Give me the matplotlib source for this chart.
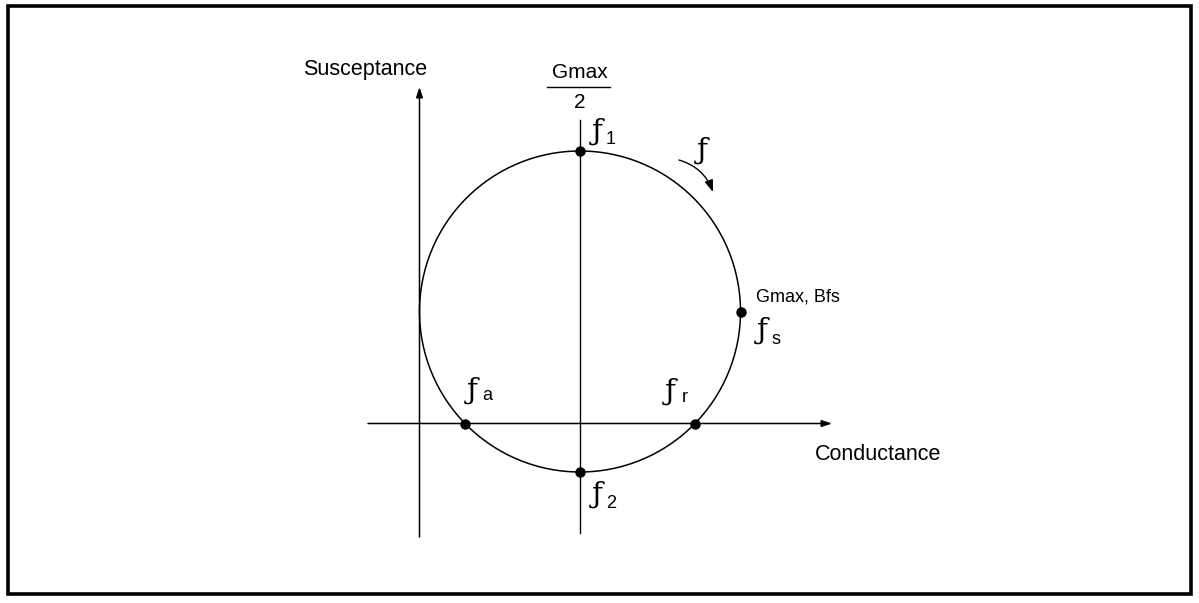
import numpy as np
import matplotlib
matplotlib.use("Agg")
from matplotlib import pyplot as plt
from matplotlib.patches import Circle, Rectangle, FancyArrowPatch

# admittance circle (diagram units: pixels from the axis origin)
Gmax = 321.0            # conductance at fs
Bfs = 112.0             # susceptance at fs
r = Gmax / 2
dG = np.sqrt(r ** 2 - Bfs ** 2)

point_names = ["1", "2", "s", "a", "r"]
point_G = [Gmax / 2, Gmax / 2, Gmax, Gmax / 2 - dG, Gmax / 2 + dG]
point_B = [Bfs + r, Bfs - r, Bfs, 0.0, 0.0]

# origin of the diagram in the picture
x0, y0 = 419.5, 423.5


def px(G, B):
    return x0 + G, y0 - B


fig = plt.figure(figsize=(11.99, 6.03), dpi=100)
ax = fig.add_axes([0, 0, 1, 1])
ax.set_xlim(0, 1199)
ax.set_ylim(603, 0)
ax.axis("off")

font = "Liberation Sans"
lw = 1.1

# frame
ax.add_patch(Rectangle((7.5, 5.5), 1183.5, 588.5, fill=False, lw=2.6, color="black"))

# axes with arrows
ax.annotate("", xy=px(0, 336.5), xytext=px(0, -113.5),
            arrowprops=dict(arrowstyle="-|>,head_length=0.6,head_width=0.2",
                            lw=lw, color="black", shrinkA=0, shrinkB=0))
ax.annotate("", xy=px(412.5, 0), xytext=px(-51.5, 0),
            arrowprops=dict(arrowstyle="-|>,head_length=0.6,head_width=0.2",
                            lw=lw, color="black", shrinkA=0, shrinkB=0))

# Gmax/2 line
ax.plot([x0 + Gmax / 2] * 2, [120, 533], color="black", lw=lw * 0.9)

# circle
ax.add_patch(Circle(px(Gmax / 2, Bfs), r, fill=False, lw=1.1, color="black"))

# points
X = [px(g, b)[0] for g, b in zip(point_G, point_B)]
Y = [px(g, b)[1] for g, b in zip(point_G, point_B)]
ax.plot(X, Y, "o", color="black", ms=6.5)

# labels
ax.text(365, 70, "Susceptance", fontsize=15.5, family=font, ha="center", va="center")
ax.text(878, 454, "Conductance", fontsize=15.5, family=font, ha="center", va="center")
ax.text(580, 73, "Gmax", fontsize=15, family=font, ha="center", va="center")
ax.plot([547, 610], [87, 87], color="black", lw=1.0)
ax.text(580, 103, "2", fontsize=15, family=font, ha="center", va="center")
ax.text(798, 297, "Gmax, Bfs", fontsize=13, family=font, ha="center", va="center")

# f labels: script f + subscript
f_pos = {"1": (597, 132), "2": (597, 495), "s": (762, 331), "a": (472, 391), "r": (670, 392)}
sub_off = {"1": (14, 8), "2": (14, 8), "s": (14, 9), "a": (15, 5), "r": (15, 5)}
for name in point_names:
    fx, fy = f_pos[name]
    ax.text(fx, fy, "\u0192", fontsize=21, family="DejaVu Serif", ha="center", va="center")
    ox, oy = sub_off[name]
    ax.text(fx + ox, fy + oy, name, fontsize=13, family=font, ha="center", va="center")

# frequency direction
ax.text(702, 151, "\u0192", fontsize=21, family="DejaVu Serif", ha="center", va="center")
ax.add_patch(FancyArrowPatch((679, 160), (713, 192), connectionstyle="arc3,rad=-0.25",
                             arrowstyle="-|>,head_length=7,head_width=2.5",
                             lw=1.0, color="black", shrinkA=0, shrinkB=0))

fig.savefig("out.png", dpi=100)
